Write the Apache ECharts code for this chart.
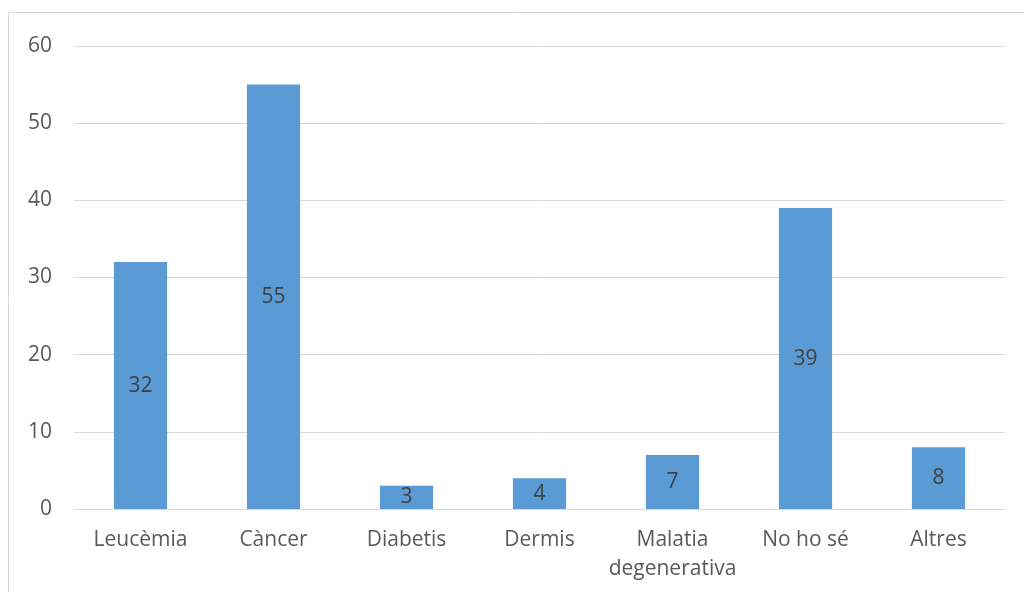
<!DOCTYPE html>
<html><head><meta charset="utf-8">
<script src="https://cdn.jsdelivr.net/npm/echarts@6/dist/echarts.min.js"></script>
<style>html,body{margin:0;padding:0;background:#fff}#c{width:1024px;height:592px}</style>
</head><body><div id="c"></div>
<script>
const categories = ['Leucèmia', 'Càncer', 'Diabetis', 'Dermis', 'Malatia\ndegenerativa', 'No ho sé', 'Altres'];
const values = [32, 55, 3, 4, 7, 39, 8];
const chart = echarts.init(document.getElementById('c'));
const font = '"Open Sans", sans-serif';
chart.setOption({
  animation: false,
  graphic: [{type: 'rect', shape: {x: 8.5, y: 12.5, width: 1100, height: 700}, style: {fill: 'none', stroke: '#d9d9d9', lineWidth: 1}}],
  grid: {left: 74, right: 19, top: 46, bottom: 83},
  xAxis: {
    type: 'category', data: categories,
    axisLine: {lineStyle: {color: '#d9d9d9', width: 1}},
    axisTick: {show: false},
    axisLabel: {color: '#595959', fontSize: 21, fontFamily: font, margin: 17, lineHeight: 29, interval: 0}
  },
  yAxis: {
    type: 'value', min: 0, max: 60, interval: 10,
    axisLine: {show: false}, axisTick: {show: false},
    splitLine: {lineStyle: {color: '#d9d9d9', width: 1}},
    axisLabel: {color: '#595959', fontSize: 21, fontFamily: font, margin: 22}
  },
  series: [{
    type: 'bar', data: values, barWidth: '40%',
    itemStyle: {color: '#5b9bd5'},
    label: {show: true, position: 'inside', color: '#404040', fontSize: 21, fontFamily: font}
  }]
});
</script></body></html>
